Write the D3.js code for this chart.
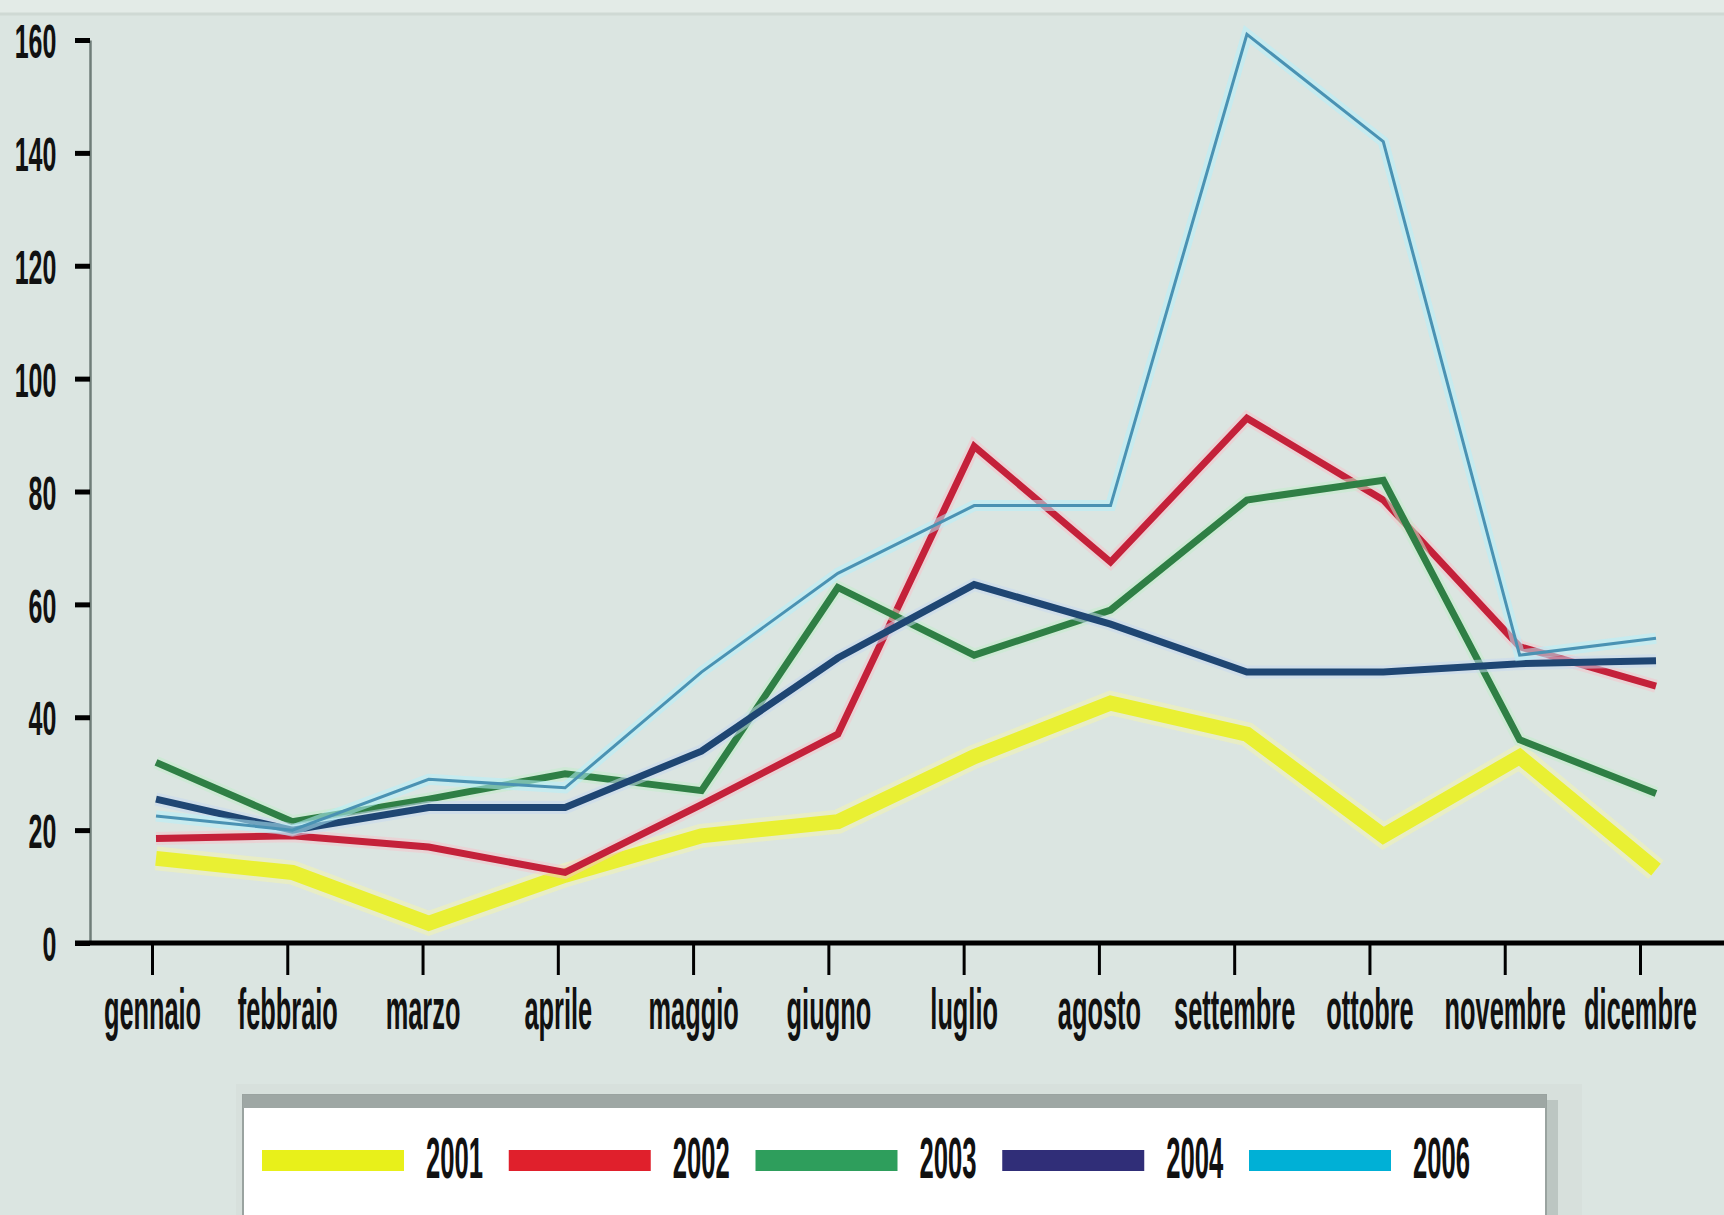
<!DOCTYPE html>
<html>
<head>
<meta charset="utf-8">
<script src="https://cdn.jsdelivr.net/npm/d3@7"></script>
<style>
  body { margin: 0; background: #dbe5e1; }
  svg { display: block; }
  text { font-family: "Liberation Sans", Arial, sans-serif; font-weight: bold; fill: #111; }
</style>
</head>
<body>
<script>
// dati
var months = ["gennaio", "febbraio", "marzo", "aprile", "maggio", "giugno",
              "luglio", "agosto", "settembre", "ottobre", "novembre", "dicembre"];
var years = ["2001", "2002", "2003", "2004", "2006"];

var v2001 = [15, 12.5, 3.5, 12, 19, 21.5, 33, 42.5, 37, 19, 33, 13];
var v2002 = [18.5, 19, 17, 12.5, 24.5, 37, 88, 67.5, 93, 78.5, 52.5, 45.5];
var v2003 = [32, 21.5, 25.5, 30, 27, 63, 51, 59, 78.5, 82, 36, 26.5];
var v2004 = [25.5, 20, 24, 24, 34, 50.5, 63.5, 56.5, 48, 48, 49.5, 50];
var v2006 = [22.5, 20, 29, 27.5, 48, 65.5, 77.5, 77.5, 161, 142, 51, 54];

var yTicks = [0, 20, 40, 60, 80, 100, 120, 140, 160];

var series = [v2001, v2002, v2003, v2004, v2006];
var lineColor  = ["#e9f033", "#c4213a", "#2f7f45", "#1f4673", "#4a92b3"];
var haloColor  = ["#f2f4b0", "#f4c4cc", "#c2eccc", "#c6d8f0", "#b5f0fb"];
var lineWidth  = [15, 7, 7, 7, 3];
var haloWidth  = [24, 13, 13, 13, 11];
var swatchColor = ["#e8f01a", "#e0202c", "#2e9e5c", "#302e78", "#00b0d6"];

var w = 1724, h = 1215;

var svg = d3.select("body").append("svg")
  .attr("width", w)
  .attr("height", h);

svg.append("rect").attr("width", w).attr("height", h).attr("fill", "#dbe5e1");
svg.append("rect").attr("width", w).attr("height", 13).attr("fill", "#e3ebe7");
svg.append("line").attr("x1", 0).attr("x2", w).attr("y1", 14).attr("y2", 14)
  .attr("stroke", "#cfd9d4").attr("stroke-width", 3);

var y = d3.scaleLinear().domain([0, 160]).range([943, 40]);
var xTick = d3.scalePoint().domain(months).range([152, 1640]);
var xLine = d3.scalePoint().domain(months).range([156, 1656]);

// asse y
var yAxis = svg.append("g")
  .attr("transform", "translate(90,0)")
  .call(d3.axisLeft(y).tickValues(yTicks).tickSizeInner(15).tickSizeOuter(0).tickPadding(0));
yAxis.select(".domain").attr("stroke", "#6f7d78").attr("stroke-width", 2.5);
yAxis.selectAll(".tick line").attr("stroke", "#000").attr("stroke-width", 5);
yAxis.selectAll(".tick text")
  .attr("x", -66)
  .attr("dy", "0.36em")
  .attr("transform", "scale(0.51,1)")
  .style("font-size", "49px");

// asse x
svg.append("line")
  .attr("x1", 75).attr("x2", w)
  .attr("y1", y(0)).attr("y2", y(0))
  .attr("stroke", "#000").attr("stroke-width", 5);

var xAxis = svg.append("g")
  .attr("transform", "translate(0," + y(0) + ")")
  .call(d3.axisBottom(xTick).tickSizeInner(32).tickSizeOuter(0));
xAxis.select(".domain").remove();
xAxis.selectAll(".tick line").attr("stroke", "#000").attr("stroke-width", 3);
xAxis.selectAll(".tick text")
  .attr("y", 86)
  .attr("dy", 0)
  .attr("transform", "scale(0.445,1)")
  .style("font-size", "57px");

// linee
var line = d3.line()
  .x(function(d, i) { return xLine(months[i]); })
  .y(function(d) { return y(d); });

var g = svg.append("g");
series.forEach(function(s, k) {
  g.append("path")
    .attr("d", line(s))
    .attr("fill", "none")
    .attr("stroke", haloColor[k])
    .attr("stroke-width", haloWidth[k])
    .attr("stroke-opacity", 0.55)
    .attr("stroke-linejoin", "miter");
  g.append("path")
    .attr("d", line(s))
    .attr("fill", "none")
    .attr("stroke", lineColor[k])
    .attr("stroke-width", lineWidth[k])
    .attr("stroke-linejoin", "miter");
});

// legenda
var leg = svg.append("g");
leg.append("rect").attr("x", 236).attr("y", 1084).attr("width", 1346).attr("height", 140)
  .attr("fill", "#d7e0dc");
leg.append("rect").attr("x", 1546).attr("y", 1100).attr("width", 12).attr("height", 120)
  .attr("fill", "#bcc6c2");
leg.append("rect").attr("x", 243).attr("y", 1095).attr("width", 1303).attr("height", 130)
  .attr("fill", "#ffffff").attr("stroke", "#9aa3a0").attr("stroke-width", 2);
leg.append("rect").attr("x", 243).attr("y", 1095).attr("width", 1303).attr("height", 13)
  .attr("fill", "#9ea7a4");

var xLeg = d3.scalePoint().domain(years).range([262, 1249]);

leg.selectAll("rect.sw")
  .data(years)
  .enter()
  .append("rect")
  .attr("class", "sw")
  .attr("x", function(d) { return xLeg(d); })
  .attr("y", 1150)
  .attr("width", 142)
  .attr("height", 21)
  .attr("fill", function(d, i) { return swatchColor[i]; });

leg.selectAll("text.lab")
  .data(years)
  .enter()
  .append("text")
  .attr("class", "lab")
  .attr("x", function(d) { return (xLeg(d) + 164) / 0.45; })
  .attr("y", 1178)
  .attr("transform", "scale(0.45,1)")
  .style("font-size", "57px")
  .text(function(d) { return d; });
</script>
</body>
</html>
